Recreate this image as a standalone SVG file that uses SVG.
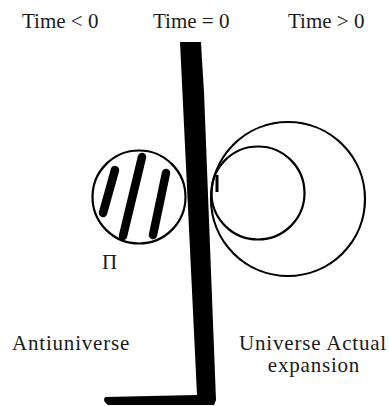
<svg xmlns="http://www.w3.org/2000/svg" width="389" height="406" viewBox="0 0 389 406">
<style>
  .t { font-family: "Liberation Serif", "Times New Roman", serif; font-size: 21px; fill: #1a1a1a; }
  .ls { letter-spacing: 0.8px; }
  .ring { fill: none; stroke: #000; stroke-width: 2.2; }
  .stripe { stroke: #000; stroke-width: 8.5; stroke-linecap: round; fill: none; }
</style>
<rect width="389" height="406" fill="#fff"/>
<g id="labels">
  <text class="t" x="22" y="28">Time &lt; 0</text>
  <text class="t" x="153" y="28">Time = 0</text>
  <text class="t" x="288" y="28">Time &gt; 0</text>
</g>
<g id="time-axis">
  <path d="M180,42 L201,42 L202,60 L204,92 L216,400 L214,405 L108,405 Q102,401 105,397 L197,395 Z" fill="#000"/>
</g>
<g id="antiuniverse-circle">
  <circle class="ring" cx="139" cy="197" r="46.5"/>
  <line class="stripe" x1="115" y1="170" x2="103" y2="213"/>
  <line class="stripe" x1="142" y1="157" x2="123" y2="236"/>
  <line class="stripe" x1="166" y1="173" x2="153" y2="235"/>
  <text class="t" x="102" y="269">Π</text>
</g>
<g id="universe-circles">
  <circle class="ring" cx="288" cy="199" r="77"/>
  <circle class="ring" cx="258" cy="193" r="46.5"/>
  <line x1="217" y1="175" x2="217" y2="192" stroke="#000" stroke-width="3"/>
</g>
<g id="bottom-labels">
  <text class="t ls" x="12" y="350">Antiuniverse</text>
  <text class="t ls" x="313" y="350" text-anchor="middle">Universe Actual</text>
  <text class="t ls" x="314" y="372" text-anchor="middle">expansion</text>
</g>
</svg>
